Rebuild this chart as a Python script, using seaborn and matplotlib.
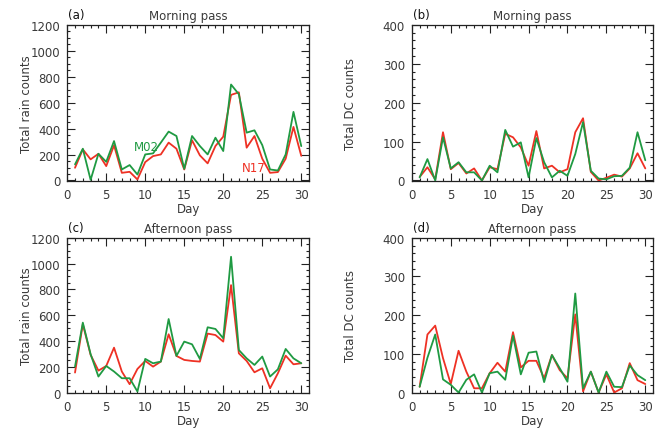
import matplotlib
matplotlib.use("Agg")
import matplotlib.pyplot as plt
import matplotlib.ticker as mticker
import pandas as pd
import seaborn as sns

sns.set_theme(style="ticks")
plt.rcParams['font.family'] = ['DejaVu Sans']

days = list(range(1, 31))

## Morning pass, rain counts
rain_am_n17 = [98, 240, 163, 206, 111, 271, 59, 67, 8, 142, 188, 201, 292, 245, 85,
               310, 194, 132, 266, 338, 660, 680, 253, 343, 168, 59, 65, 168, 413, 190]
rain_am_m02 = [124, 245, 5, 206, 144, 304, 85, 119, 46, 201, 209, 292, 377, 343, 90,
               343, 266, 201, 330, 227, 740, 665, 369, 387, 273, 85, 77, 201, 529, 265]

## Morning pass, DC counts
dc_am_n17 = [9, 34, 3, 124, 29, 45, 18, 31, 0, 34, 29, 120, 111, 85, 38,
             127, 31, 38, 21, 29, 124, 160, 22, 0, 7, 15, 10, 31, 70, 31]
dc_am_m02 = [8, 55, 0, 111, 31, 47, 21, 21, 0, 38, 21, 130, 87, 98, 8,
             109, 47, 8, 25, 12, 68, 150, 25, 5, 3, 11, 12, 33, 124, 52]

## Afternoon pass, rain counts
rain_pm_n17 = [155, 530, 292, 170, 206, 348, 163, 65, 183, 245, 201, 240, 452, 284, 253,
               245, 240, 457, 446, 395, 833, 304, 245, 157, 188, 33, 149, 286, 219, 227]
rain_pm_m02 = [201, 542, 297, 124, 206, 163, 111, 111, 8, 261, 227, 240, 570, 284, 395,
               374, 261, 506, 493, 421, 1053, 330, 265, 214, 279, 124, 180, 338, 265, 227]

## Afternoon pass, DC counts
dc_pm_n17 = [15, 150, 173, 89, 22, 108, 54, 11, 11, 50, 77, 54, 156, 65, 82,
             82, 37, 97, 58, 37, 202, 3, 54, 0, 47, 0, 11, 76, 32, 22]
dc_pm_m02 = [15, 90, 150, 34, 20, 0, 33, 47, 0, 50, 54, 33, 147, 47, 103,
             106, 27, 97, 63, 28, 256, 11, 54, 0, 54, 15, 14, 70, 45, 32]

RED = '#ee3124'
GREEN = '#1f9a42'
TXT = '#3a3a3a'


def plot_panel(ax, n17, m02, letter, title, ylabel, ymax, ymajor, yminor, ylab_x, labels=False):
	df = pd.DataFrame({"Day": days * 2,
	                   "Counts": n17 + m02,
	                   "Sat": ["N17"] * 30 + ["M02"] * 30})
	sns.lineplot(data=df, x="Day", y="Counts", hue="Sat", palette={"N17": RED, "M02": GREEN},
	             hue_order=["N17", "M02"], linewidth=1.3, legend=False, ax=ax)

	ax.set_xlim(0, 31)
	ax.set_ylim(-3 * ymax / 1200, ymax)
	ax.xaxis.set_major_locator(mticker.MultipleLocator(5))
	ax.xaxis.set_minor_locator(mticker.MultipleLocator(1))
	ax.yaxis.set_major_locator(mticker.MultipleLocator(ymajor))
	ax.yaxis.set_minor_locator(mticker.MultipleLocator(yminor))
	ax.tick_params(which='both', direction='in', top=True, right=True, colors='#222',
	               labelcolor=TXT, labelsize=8.5, width=0.8)
	ax.tick_params(which='major', length=5.5, pad=5)
	ax.tick_params(which='minor', length=2.5)
	for sp in ax.spines.values():
		sp.set_linewidth(0.9)
		sp.set_color('#222')

	ax.set_xlabel("Day", fontsize=8.5, color=TXT, labelpad=1)
	ax.set_ylabel(ylabel, fontsize=8.5, color=TXT)
	ax.yaxis.set_label_coords(ylab_x, 0.5)
	ax.set_title(title, fontsize=8.5, color=TXT, pad=4)
	ax.text(0.005, 1.025, letter, transform=ax.transAxes, fontsize=8.5, color='#111',
	        ha='left', va='bottom')

	if labels:
		ax.text(8.6, 260, "M02", color=GREEN, fontsize=8.5, va='center')
		ax.text(22.4, 100, "N17", color=RED, fontsize=8.5, va='center')


fig = plt.figure(figsize=(6.59, 4.31), dpi=100)
ax_a = fig.add_axes([0.102, 0.578, 0.367, 0.362])
ax_b = fig.add_axes([0.625, 0.578, 0.366, 0.362])
ax_c = fig.add_axes([0.102, 0.086, 0.367, 0.36])
ax_d = fig.add_axes([0.625, 0.086, 0.366, 0.36])

plot_panel(ax_a, rain_am_n17, rain_am_m02, "(a)", "Morning pass", "Total rain counts", 1200, 200, 50, -0.14, labels=True)
plot_panel(ax_b, dc_am_n17, dc_am_m02, "(b)", "Morning pass", "Total DC counts", 400, 100, 20, -0.228)
plot_panel(ax_c, rain_pm_n17, rain_pm_m02, "(c)", "Afternoon pass", "Total rain counts", 1200, 200, 50, -0.14)
plot_panel(ax_d, dc_pm_n17, dc_pm_m02, "(d)", "Afternoon pass", "Total DC counts", 400, 100, 20, -0.228)

fig.savefig("out.png", dpi=100)
